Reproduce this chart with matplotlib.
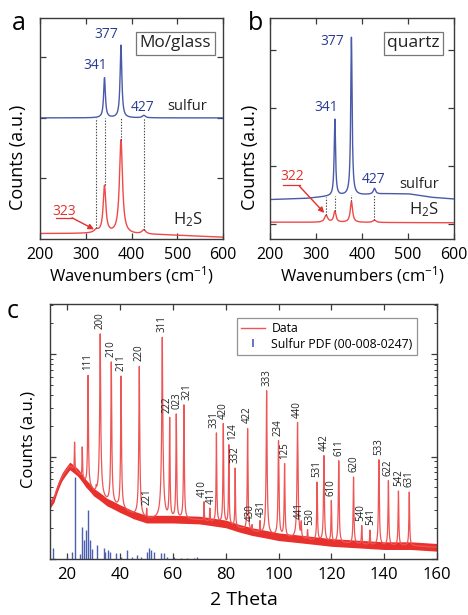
import numpy as np
import matplotlib
matplotlib.use('Agg')
import matplotlib.pyplot as plt
from matplotlib.lines import Line2D

plt.rcParams['font.family'] = ['Open Sans', 'DejaVu Sans']
plt.rcParams['mathtext.fontset'] = 'custom'
plt.rcParams['mathtext.rm'] = 'Open Sans'
plt.rcParams['mathtext.it'] = 'Open Sans:italic'

# ---------------- Panel a (Mo/glass) ----------------
a_peak_pos = [323, 341, 377, 427]
a_sulfur_amp = [0.0, 0.66, 1.20, 0.04]
a_sulfur_hwhm = [3.0, 2.3, 2.3, 4.0]
a_h2s_amp = [0.05, 0.78, 1.55, 0.07]
a_h2s_hwhm = [6.0, 3.5, 4.0, 5.0]
a_sulfur_base_x = [200, 600]
a_sulfur_base_y = [2.0, 2.0]
a_h2s_base_x = [200, 300, 470, 600]
a_h2s_base_y = [0.09, 0.09, 0.07, 0.03]

# ---------------- Panel b (quartz) ----------------
b_peak_pos = [322, 341, 377, 427]
b_sulfur_amp = [0.0, 1.32, 2.72, 0.10]
b_sulfur_hwhm = [3.0, 1.8, 1.8, 3.0]
b_h2s_amp = [0.12, 0.19, 0.36, 0.04]
b_h2s_hwhm = [4.0, 3.0, 3.0, 4.0]
b_sulfur_base_x = [200, 280, 320, 360, 400, 450, 500, 550, 600]
b_sulfur_base_y = [0.42, 0.44, 0.47, 0.49, 0.50, 0.52, 0.52, 0.46, 0.43]
b_h2s_base_x = [200, 600]
b_h2s_base_y = [0.03, 0.02]

# ---------------- Panel c (XRD) ----------------
xrd_labels = ['111', '200', '210', '211', '220', '221', '311', '222', '023', '321',
              '410', '411', '331', '420', '124', '332', '422', '430', '431', '333',
              '234', '125', '440', '441', '530', '531', '442', '610', '611', '620',
              '540', '541', '533', '622', '542', '631']
xrd_pos = [27.9, 32.5, 36.7, 40.4, 47.3, 50.1, 56.0, 58.8, 61.3, 64.2,
           71.8, 74.0, 76.5, 79.1, 81.2, 83.6, 88.3, 90.0, 93.0, 95.5,
           100.0, 102.3, 107.2, 108.6, 111.0, 114.6, 117.2, 120.0, 122.8, 128.4,
           131.5, 134.6, 138.0, 141.6, 145.4, 149.5]
xrd_height = [62, 158, 84, 61, 76, 3.0, 146, 24, 26, 32,
              3.6, 3.1, 17, 21, 13, 7.7, 18.8, 2.1, 2.3, 44,
              14.3, 8.5, 21.5, 2.2, 1.9, 5.6, 10.2, 3.7, 9.1, 6.3,
              2.1, 1.9, 9.3, 5.8, 4.6, 4.5]
xrd_extra_pos = [22.8, 25.7, 31.0]
xrd_extra_height = [13.8, 12.3, 4.7]
xrd_bg_x = [13.5, 15, 18, 21, 24, 27, 30, 35, 40, 45, 50, 60, 70, 80, 85, 90, 100,
            110, 120, 130, 140, 150, 160]
xrd_bg_y = [3.4, 3.9, 6.3, 8.1, 7.0, 5.5, 4.5, 3.6, 3.1, 2.7, 2.45, 2.45, 2.4, 2.2,
            2.0, 1.85, 1.65, 1.55, 1.45, 1.4, 1.35, 1.35, 1.3]
pdf_pos = [14.8, 19.9, 21.8, 22.8, 24.9, 25.7, 26.5, 27.2, 27.8, 28.5, 29.4, 31.3,
           33.8, 34.4, 35.3, 36.3, 38.3, 40.2, 42.7, 44.6, 46.5, 47.8, 50.3, 50.9,
           51.6, 52.8, 55.4, 56.6, 57.9, 60.4, 63.0, 65.5, 68.0, 69.3]
pdf_height = [1.27, 1.05, 1.18, 6.3, 1.13, 2.06, 1.53, 1.91, 2.99, 1.53, 1.25, 1.37,
              1.27, 1.18, 1.23, 1.18, 1.14, 1.05, 1.23, 1.05, 1.09, 1.05, 1.18, 1.27,
              1.23, 1.18, 1.14, 1.14, 1.05, 1.04, 1.02, 1.03, 1.02, 1.04]

# small horizontal nudges for crowded hkl labels (layout only)
label_dx = {'222': -1.1, '023': 0.4, '321': 1.3, '410': -0.8, '411': 0.6,
            '430': -0.6, '431': 0.6, '331': -1.0, '420': -0.2, '124': 1.4,
            '441': -0.7, '530': 0.7, '540': -0.3, '541': 0.3}

BLUE = '#4a5aa8'
BLUE_T = '#2b3a92'
RED = '#ee4a48'
RED_T = '#e2302c'
FRAME = '#3a3a3a'


def lorentz_sum(x, pos, amp, hwhm):
    y = np.zeros_like(x)
    for p, a, w in zip(pos, amp, hwhm):
        y += a * w ** 2 / ((x - p) ** 2 + w ** 2)
    return y


fig = plt.figure(figsize=(4.68, 6.15), dpi=100)
ax_a = fig.add_axes([40 / 468, 1 - 239 / 615, 183 / 468, 221 / 615])
ax_b = fig.add_axes([270 / 468, 1 - 239 / 615, 184 / 468, 221 / 615])
ax_c = fig.add_axes([50 / 468, 1 - 559 / 615, 387 / 468, 255 / 615])

wn = np.linspace(200, 600, 2001)


def raman_panel(ax, pos, s_amp, s_w, h_amp, h_w, sbx, sby, hbx, hby, ylim, yticks):
    s_base = np.interp(wn, sbx, sby)
    h_base = np.interp(wn, hbx, hby)
    s = s_base + lorentz_sum(wn, pos, s_amp, s_w)
    h = h_base + lorentz_sum(wn, pos, h_amp, h_w)
    ax.plot(wn, s, color=BLUE, lw=1.0)
    ax.plot(wn, h, color=RED, lw=1.0)
    for p in pos:
        top = np.interp(p, sbx, sby)
        bot = np.interp(p, hbx, hby) + lorentz_sum(np.array([p], float), pos, h_amp, h_w)[0]
        ax.plot([p, p], [bot, top], ls=(0, (1.2, 1.4)), color='#444444', lw=0.8)
    ax.set_xlim(200, 600)
    ax.set_ylim(*ylim)
    ax.set_xticks([200, 300, 400, 500, 600])
    ax.set_yticks(yticks)
    ax.tick_params(direction='in', top=True, right=True, labelleft=False,
                   length=4, width=0.9, color=FRAME, labelsize=11.5, pad=5.5)
    for sp in ax.spines.values():
        sp.set_color(FRAME)
        sp.set_linewidth(1.0)
    ax.set_xlabel('Wavenumbers (cm$^{-1}$)', fontsize=12)
    ax.xaxis.set_label_coords(0.5, -0.115)
    ax.set_ylabel('Counts (a.u.)', fontsize=13)


raman_panel(ax_a, a_peak_pos, a_sulfur_amp, a_sulfur_hwhm, a_h2s_amp, a_h2s_hwhm,
            a_sulfur_base_x, a_sulfur_base_y, a_h2s_base_x, a_h2s_base_y,
            (0, 3.65), [1, 2, 3])
ax_a.yaxis.set_label_coords(-0.07, 0.37)
raman_panel(ax_b, b_peak_pos, b_sulfur_amp, b_sulfur_hwhm, b_h2s_amp, b_h2s_hwhm,
            b_sulfur_base_x, b_sulfur_base_y, b_h2s_base_x, b_h2s_base_y,
            (-0.26, 3.55), [0, 1, 2, 3])
ax_b.yaxis.set_label_coords(-0.06, 0.37)

fs = 10
# panel a texts
ax_a.text(346, 3.37, '377', color=BLUE_T, fontsize=fs, ha='center', va='center')
ax_a.text(320, 2.86, '341', color=BLUE_T, fontsize=fs, ha='center', va='center')
ax_a.text(425, 2.17, '427', color=BLUE_T, fontsize=fs, ha='center', va='center')
ax_a.text(521, 2.19, 'sulfur', color='#222222', fontsize=10.5, ha='center', va='center')
ax_a.text(523, 0.32, 'H$_2$S', color='#222222', fontsize=12, ha='center', va='center')
ax_a.text(252, 0.46, '323', color=RED_T, fontsize=fs, ha='center', va='center')
ax_a.plot([234, 270], [0.35, 0.35], color=RED_T, lw=0.9)
ax_a.annotate('', xy=(318, 0.16), xytext=(270, 0.35),
              arrowprops=dict(arrowstyle='-|>', color=RED_T, lw=1.0,
                              mutation_scale=8, shrinkA=0, shrinkB=0))
ax_a.text(0.74, 0.885, 'Mo/glass', transform=ax_a.transAxes, fontsize=12.3,
          ha='center', va='center', color='#222222',
          bbox=dict(boxstyle='square,pad=0.2', fc='white', ec='#777777', lw=0.9))

# panel b texts
ax_b.text(335, 3.14, '377', color=BLUE_T, fontsize=fs, ha='center', va='center')
ax_b.text(322, 2.00, '341', color=BLUE_T, fontsize=fs, ha='center', va='center')
ax_b.text(426, 0.76, '427', color=BLUE_T, fontsize=fs, ha='center', va='center')
ax_b.text(524, 0.68, 'sulfur', color='#222222', fontsize=10.5, ha='center', va='center')
ax_b.text(535, 0.25, 'H$_2$S', color='#222222', fontsize=12, ha='center', va='center')
ax_b.text(248, 0.82, '322', color=RED_T, fontsize=fs, ha='center', va='center')
ax_b.plot([229, 266], [0.67, 0.67], color=RED_T, lw=0.9)
ax_b.annotate('', xy=(318, 0.19), xytext=(264, 0.65),
              arrowprops=dict(arrowstyle='-|>', color=RED_T, lw=1.0,
                              mutation_scale=8, shrinkA=0, shrinkB=0))
ax_b.text(0.78, 0.885, 'quartz', transform=ax_b.transAxes, fontsize=12.5,
          ha='center', va='center', color='#222222',
          bbox=dict(boxstyle='square,pad=0.2', fc='white', ec='#777777', lw=0.9))

# ---------------- panel c ----------------
tt = np.arange(13.5, 160.0001, 0.01)
bg = np.interp(tt, xrd_bg_x, xrd_bg_y)
all_pos = list(xrd_pos) + list(xrd_extra_pos)
all_h = list(xrd_height) + list(xrd_extra_height)
amps = [h - np.interp(p, xrd_bg_x, xrd_bg_y) for p, h in zip(all_pos, all_h)]
widths = [0.09 if p < 100 else 0.12 for p in all_pos]
total = bg + lorentz_sum(tt, all_pos, amps, widths)

ax_c.set_yscale('log')
ax_c.vlines(pdf_pos, 1.0, pdf_height, color='#4b5fb0', lw=1.0)
ax_c.fill_between(tt, bg / 1.09, bg * 1.09, color='#e8302d', lw=0)
ax_c.plot(tt, total, color='#ee5555', lw=0.9)

for lab, p, h in zip(xrd_labels, xrd_pos, xrd_height):
    ax_c.text(p + label_dx.get(lab, 0.0), h * 1.12, lab, rotation=90, fontsize=7.0,
              ha='center', va='bottom', color='#222222')

ax_c.set_xlim(13.5, 160)
ax_c.set_ylim(1, 10 ** 2.49)
ax_c.set_xticks(np.arange(20, 161, 20))
ax_c.tick_params(which='major', direction='in', top=True, right=True, labelleft=False,
                 length=4, width=0.9, color=FRAME, labelsize=12, pad=6)
ax_c.tick_params(which='minor', direction='in', left=True, right=True, top=False,
                 bottom=False, length=2.2, width=0.7, color=FRAME, labelleft=False)
for sp in ax_c.spines.values():
    sp.set_color(FRAME)
    sp.set_linewidth(1.0)
ax_c.set_xlabel('2 Theta', fontsize=14)
ax_c.xaxis.set_label_coords(0.5, -0.125)
ax_c.set_ylabel('Counts (a.u.)', fontsize=12)
ax_c.yaxis.set_label_coords(-0.035, 0.47)

handles = [Line2D([], [], color='#ee5555', lw=1.0),
           Line2D([], [], color='#4b5fb0', marker='|', ls='None', markersize=6,
                  markeredgewidth=1.2)]
leg = ax_c.legend(handles, ['Data', 'Sulfur PDF (00-008-0247)'], loc='upper right',
                  bbox_to_anchor=(0.948, 0.945), fontsize=8.8, frameon=True,
                  fancybox=False, edgecolor='#777777', borderpad=0.35,
                  labelspacing=0.2, handlelength=2.0, handletextpad=0.5,
                  borderaxespad=0)
leg.get_frame().set_linewidth(0.9)

fig.text(19 / 468, 1 - 23 / 615, 'a', fontsize=18, ha='center', va='center')
fig.text(256 / 468, 1 - 23 / 615, 'b', fontsize=18, ha='center', va='center')
fig.text(13 / 468, 1 - 312 / 615, 'c', fontsize=18, ha='center', va='center')

fig.savefig('out.png', dpi=100)
